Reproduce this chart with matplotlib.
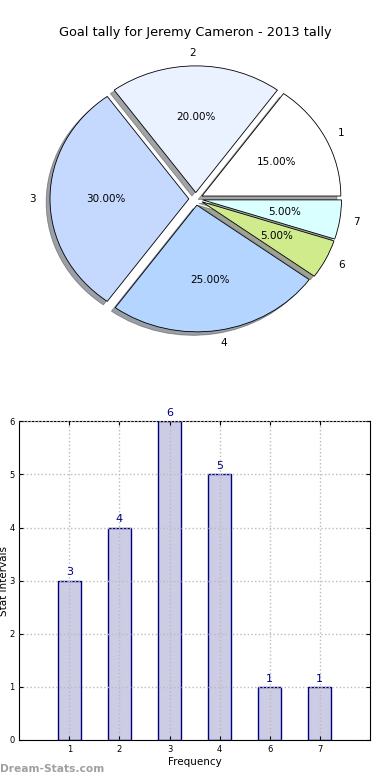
import matplotlib
matplotlib.use("Agg")
import matplotlib.pyplot as plt
import numpy as np

# Data
categories = ["1", "2", "3", "4", "6", "7"]
counts = [3, 4, 6, 5, 1, 1]
slice_colors = ["#ffffff", "#eaf1ff", "#c5d9ff", "#b4d5ff", "#cfeb8c", "#d9ffff"]
title = "Goal tally for Jeremy Cameron - 2013 tally"

fig = plt.figure(figsize=(3.9, 7.8), dpi=100)

# --- Pie chart ---
ax1 = fig.add_axes([0.057, 0.542, 0.890, 0.406])
ax1.pie(counts, labels=categories, colors=slice_colors, autopct="%1.2f%%",
        explode=[0.05] * len(counts), shadow=True, startangle=0,
        wedgeprops={"edgecolor": "black", "linewidth": 0.6},
        textprops={"fontsize": 7.5})
ax1.set_aspect("auto")
ax1.set_title(title, fontsize=9.3, pad=3)

# --- Bar chart ---
ax2 = fig.add_axes([0.0495, 0.0513, 0.899, 0.4086])
x = np.arange(1, len(counts) + 1)
bars = ax2.bar(x, counts, width=0.46, facecolor=(0, 0, 0.5, 0.2),
               edgecolor="navy", linewidth=1.0, zorder=1)
for xi, c in zip(x, counts):
    ax2.text(xi, c + 0.06, str(c), ha="center", va="bottom", color="navy", fontsize=8)
ax2.set_xlim(0, 7)
ax2.set_ylim(0, 6)
ax2.set_xticks(x)
ax2.set_xticklabels(categories)
ax2.set_yticks(range(0, 7))
ax2.tick_params(direction="in", top=True, right=True, labelsize=6, length=3)
ax2.grid(True, linestyle=":", color="#bbbbbb", linewidth=1.0, zorder=2)
ax2.set_axisbelow(False)
ax2.set_xlabel("Frequency", fontsize=7.5, labelpad=2)
ax2.set_ylabel("Stat Intervals", fontsize=7.5)
ax2.yaxis.set_label_coords(-0.028, 0.5)

fig.text(0.0, 0.008, "Dream-Stats.com", color="#a0a0a0", fontsize=7.7,
         fontweight="bold", ha="left", va="bottom")

fig.savefig("out.png", dpi=100)
